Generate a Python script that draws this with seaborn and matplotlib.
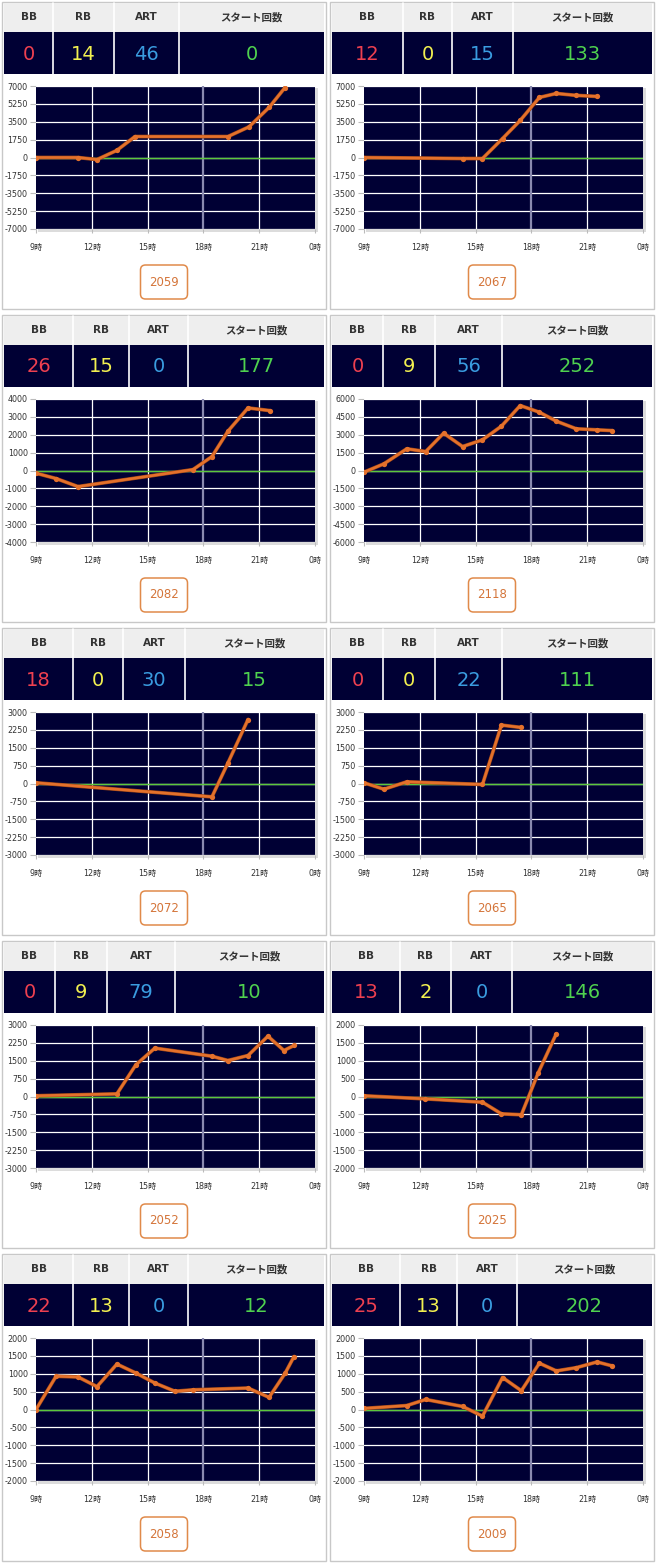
import matplotlib
matplotlib.use("Agg")
import matplotlib.pyplot as plt
import matplotlib.patheffects as pe
from matplotlib.patches import Rectangle, FancyBboxPatch
import seaborn as sns
import pandas as pd

# ---------------- data ----------------
machines = ["2059", "2067", "2082", "2118", "2072", "2065", "2052", "2025", "2058", "2009"]
bb_counts = [0, 12, 26, 0, 18, 0, 0, 13, 22, 25]
rb_counts = [14, 0, 15, 9, 0, 0, 9, 2, 13, 13]
art_counts = [46, 15, 0, 56, 30, 22, 79, 0, 0, 0]
start_counts = [0, 133, 177, 252, 15, 111, 10, 146, 12, 202]
y_limits = [7000, 7000, 4000, 6000, 3000, 3000, 3000, 2000, 2000, 2000]

header_labels = ["BB", "RB", "ART", "スタート回数"]
x_tick_hours = [9, 12, 15, 18, 21, 24]
x_tick_labels = ["9時", "12時", "15時", "18時", "21時", "0時"]

times_2059 = [9.0, 11.26, 12.28, 13.35, 14.32, 19.32, 20.45, 21.53, 22.39]
diff_2059 = [0, 0, -200, 700, 2050, 2050, 3000, 4900, 6850]

times_2067 = [9.0, 14.3, 15.37, 16.45, 17.4, 18.43, 19.34, 20.41, 21.53]
diff_2067 = [0, -100, -100, 1860, 3630, 5880, 6270, 6080, 5980]

times_2082 = [9.0, 10.08, 11.26, 17.44, 18.46, 19.32, 20.4, 21.58]
diff_2082 = [-150, -450, -900, 50, 780, 2200, 3500, 3350]

times_2118 = [9.0, 10.07, 11.3, 12.32, 13.28, 14.3, 15.37, 16.39, 17.4, 18.43, 19.34, 20.41, 21.53, 22.34]
diff_2118 = [-140, 560, 1820, 1590, 3130, 2010, 2575, 3720, 5450, 4890, 4140, 3500, 3410, 3350]

times_2072 = [9.0, 18.46, 19.32, 20.4]
diff_2072 = [30, -560, 865, 2685]

times_2065 = [9.0, 10.07, 11.3, 15.37, 16.39, 17.46]
diff_2065 = [30, -240, 70, -40, 2450, 2350]

times_2052 = [9.0, 13.35, 14.37, 15.39, 18.46, 19.32, 20.4, 21.47, 22.33, 22.87]
diff_2052 = [30, 110, 1330, 2030, 1690, 1510, 1720, 2530, 1930, 2140]

times_2025 = [9.0, 12.27, 15.37, 16.39, 17.46, 18.37, 19.34]
diff_2025 = [20, -65, -160, -485, -510, 665, 1755]

times_2058 = [9.0, 10.08, 11.26, 12.28, 13.35, 14.37, 15.39, 16.47, 17.44, 20.4, 21.53, 22.39, 22.87]
diff_2058 = [0, 930, 910, 640, 1270, 1020, 740, 510, 550, 600, 340, 1010, 1480]

times_2009 = [9.0, 11.3, 12.32, 14.3, 15.37, 16.45, 17.46, 18.43, 19.34, 20.41, 21.53, 22.34]
diff_2009 = [30, 110, 280, 85, -185, 895, 525, 1295, 1080, 1170, 1330, 1220]

series_times = [times_2059, times_2067, times_2082, times_2118, times_2072,
                times_2065, times_2052, times_2025, times_2058, times_2009]
series_diffs = [diff_2059, diff_2067, diff_2082, diff_2118, diff_2072,
                diff_2065, diff_2052, diff_2025, diff_2058, diff_2009]

# header column boundaries (absolute px, layout only)
col_bounds = [
    [53, 114, 179], [403, 452, 513],
    [73, 129, 188], [383, 435, 502],
    [73, 123, 185], [383, 435, 502],
    [55, 107, 175], [400, 451, 512],
    [73, 129, 188], [400, 457, 517],
]

# ---------------- style ----------------
sns.set_theme(style="white")
plt.rcParams["font.family"] = ["DejaVu Sans", "Noto Sans CJK JP"]

W, H = 656, 1565
fig = plt.figure(figsize=(W / 100, H / 100), dpi=100)
fig.patch.set_facecolor("white")

overlay = fig.add_axes([0, 0, 1, 1], zorder=0)
overlay.set_xlim(0, W)
overlay.set_ylim(H, 0)
overlay.axis("off")

NAVY = "#000034"
VAL_COLORS = ["#ee4050", "#f2f050", "#3a9ce0", "#4fd24f"]
ORANGE = "#e4712c"


def px_axes(x, y, w, h, z=2):
    return fig.add_axes([x / W, 1 - (y + h) / H, w / W, h / H], zorder=z)


for i in range(10):
    col, row = i % 2, i // 2
    px0 = 2 if col == 0 else 330
    py0 = 2 + row * 313

    # panel border
    overlay.add_patch(Rectangle((px0, py0), 324, 307, facecolor="white",
                                edgecolor="#c8c8c8", lw=1))
    tx0, tx1 = px0 + 2, px0 + 322
    bounds = [tx0] + col_bounds[i] + [tx1]
    vals = [bb_counts[i], rb_counts[i], art_counts[i], start_counts[i]]
    # header row & value row
    overlay.add_patch(Rectangle((tx0, py0 + 1), tx1 - tx0, 29, facecolor="#eeeeee", lw=0))
    overlay.add_patch(Rectangle((tx0, py0 + 30), tx1 - tx0, 42, facecolor=NAVY, lw=0))
    for b in col_bounds[i]:
        overlay.plot([b, b], [py0 + 1, py0 + 72], color="white", lw=1.2)
    for k in range(4):
        cx = (bounds[k] + bounds[k + 1]) / 2
        overlay.text(cx, py0 + 15, header_labels[k], ha="center", va="center",
                     fontsize=7.5, fontweight="bold", color="#333333")
        overlay.text(cx, py0 + 52, str(vals[k]), ha="center", va="center",
                     fontsize=14, color=VAL_COLORS[k])

    # chart
    ax_x, ax_y, ax_w, ax_h = px0 + 34, py0 + 84, 279, 143
    overlay.add_patch(Rectangle((ax_x + 2, ax_y + 2), ax_w + 1, ax_h + 1,
                                facecolor="#dcdcdc", lw=0))
    ax = px_axes(ax_x, ax_y, ax_w, ax_h)
    ax.set_facecolor(NAVY)
    L = y_limits[i]
    ax.set_xlim(9, 24)
    ax.set_ylim(-L, L)
    yt = [-L + k * L / 4 for k in range(9)]
    ax.set_yticks(yt)
    ax.set_yticklabels([str(int(v)) for v in yt])
    ax.set_xticks(x_tick_hours)
    ax.set_xticklabels(x_tick_labels)
    for v in yt:
        ax.axhline(v, color="white", lw=0.9, zorder=1)
    for hr in [12, 15, 21]:
        ax.axvline(hr, color="white", lw=0.9, zorder=1)
    ax.axvline(18, color="#8a8ab0", lw=1.6, zorder=1)
    ax.axhline(0, color="#5cc83c", lw=1.0, zorder=2)

    df = pd.DataFrame({"hour": series_times[i], "diff": series_diffs[i]})
    sns.lineplot(data=df, x="hour", y="diff", ax=ax, color=ORANGE, lw=1.9,
                 sort=False, estimator=None, zorder=5,
                 path_effects=[pe.Stroke(linewidth=2.7, foreground="#9a4416"), pe.Normal()])
    sns.lineplot(data=df, x="hour", y="diff", ax=ax, color=ORANGE, lw=0,
                 marker="o", markersize=3.8, markeredgewidth=0,
                 sort=False, estimator=None, zorder=6)
    ax.set_xlabel("")
    ax.set_ylabel("")
    for s in ax.spines.values():
        s.set_visible(False)
    ax.tick_params(axis="y", length=4, width=0.8, color="#bbbbbb", pad=2,
                   labelsize=5.8, labelcolor="#333333", left=True)
    ax.tick_params(axis="x", length=3, width=0.8, color="#bbbbbb", pad=7,
                   labelsize=5.8, labelcolor="#333333", bottom=True)

    # button
    bcx = px0 + 162
    overlay.add_patch(FancyBboxPatch((bcx - 23.5, py0 + 263), 47, 34,
                                     boxstyle="round,pad=0,rounding_size=5",
                                     facecolor="white", edgecolor="#e08a4a", lw=1.1))
    overlay.text(bcx, py0 + 280, machines[i], ha="center", va="center",
                 fontsize=8.5, color="#d4753a")

fig.savefig("out.png", dpi=100)
